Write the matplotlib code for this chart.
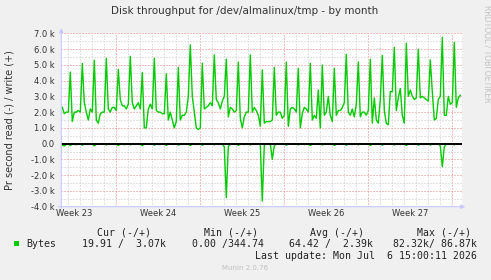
import matplotlib
matplotlib.use("Agg")
import matplotlib.pyplot as plt
import matplotlib.dates as mdates
from matplotlib.ticker import MultipleLocator, FuncFormatter, NullFormatter
from matplotlib.patches import Rectangle
import pandas as pd

# 4-hourly samples, Jun 3 12:00 -> Jul 6 16:00 (k bytes / s)
start = "2026-06-03 12:00"

write_k = [
    2.3, 1.9, 2.0,                      # Jun 3
    2.0, 4.54, 1.4, 2.0, 2.0, 2.1,      # Jun 4
    2.0, 5.08, 2.6, 2.0, 1.5, 2.2,      # Jun 5
    2.0, 5.29, 1.5, 1.3, 1.9, 2.0,      # Jun 6
    2.0, 5.41, 2.2, 2.0, 2.3, 2.3,      # Jun 7
    2.1, 4.71, 2.8, 2.4, 2.4, 2.2,      # Jun 8
    2.5, 5.54, 2.6, 2.2, 2.4, 2.6,      # Jun 9
    2.2, 4.51, 1.0, 1.0, 2.2, 2.5,      # Jun 10
    2.2, 5.42, 2.1, 2.0, 2.0, 1.9,      # Jun 11
    1.9, 4.43, 1.5, 2.0, 1.5, 1.0,      # Jun 12
    1.4, 4.83, 1.5, 1.8, 1.8, 2.0,      # Jun 13
    3.0, 6.26, 3.0, 2.0, 1.0, 0.9,      # Jun 14
    1.0, 5.10, 2.2, 2.3, 2.4, 2.6,      # Jun 15
    2.4, 5.63, 2.8, 2.6, 2.2, 2.7,      # Jun 16
    3.0, 5.36, 1.7, 2.3, 2.2, 2.0,      # Jun 17
    2.1, 5.17, 1.6, 1.0, 1.7, 2.0,      # Jun 18
    2.0, 5.63, 2.0, 2.3, 2.1, 1.8,      # Jun 19
    1.1, 4.68, 1.3, 1.4, 1.4, 1.4,      # Jun 20
    1.5, 4.83, 1.8, 2.0, 2.0, 1.6,      # Jun 21
    1.8, 5.17, 1.1, 2.2, 2.3, 2.2,      # Jun 22
    2.0, 4.78, 1.0, 1.9, 2.3, 2.2,      # Jun 23
    2.0, 5.10, 1.5, 1.8, 1.6, 3.4,      # Jun 24
    1.0, 4.99, 1.8, 2.0, 3.0, 1.8,      # Jun 25
    1.4, 4.78, 1.8, 2.1, 2.1, 2.3,      # Jun 26
    2.6, 5.67, 2.0, 1.8, 2.2, 1.7,      # Jun 27
    2.5, 5.18, 1.7, 2.0, 2.0, 1.8,      # Jun 28
    2.1, 5.35, 1.3, 2.9, 1.5, 1.3,      # Jun 29
    2.8, 5.60, 2.1, 1.3, 1.2, 3.3,      # Jun 30
    3.3, 6.11, 2.1, 2.9, 3.5, 1.8,      # Jul 1
    1.3, 6.37, 3.0, 3.4, 3.0, 2.8,      # Jul 2
    2.9, 5.99, 2.9, 3.0, 2.9, 2.8,      # Jul 3
    2.7, 5.31, 3.3, 1.5, 1.6, 2.8,      # Jul 4
    3.0, 6.74, 1.8, 1.8, 3.0, 2.5,      # Jul 5
    2.6, 6.43, 2.3, 2.9, 3.07,          # Jul 6
]

read_k = [
    -0.10, -0.15, -0.05,                        # Jun 3
    -0.02, -0.12, -0.03, -0.01, -0.08, -0.02,   # Jun 4
    -0.03, -0.10, -0.02, -0.01, -0.06, -0.01,   # Jun 5
    -0.02, -0.14, -0.04, -0.02, -0.03, -0.01,   # Jun 6
    -0.01, -0.09, -0.02, -0.05, -0.02, -0.01,   # Jun 7
    -0.04, -0.12, -0.03, -0.01, -0.07, -0.02,   # Jun 8
    -0.02, -0.08, -0.01, -0.02, -0.05, -0.01,   # Jun 9
    -0.03, -0.13, -0.02, -0.01, -0.04, -0.02,   # Jun 10
    -0.02, -0.10, -0.03, -0.02, -0.06, -0.01,   # Jun 11
    -0.01, -0.11, -0.02, -0.01, -0.03, -0.02,   # Jun 12
    -0.02, -0.09, -0.05, -0.02, -0.02, -0.01,   # Jun 13
    -0.03, -0.12, -0.02, -0.01, -0.06, -0.02,   # Jun 14
    -0.02, -0.10, -0.03, -0.02, -0.04, -0.01,   # Jun 15
    -0.01, -0.08, -0.02, -0.01, -0.05, -0.02,   # Jun 16
    -0.20, -3.43, -0.18, -0.02, -0.04, -0.01,   # Jun 17
    -0.02, -0.11, -0.03, -0.02, -0.06, -0.02,   # Jun 18
    -0.01, -0.09, -0.02, -0.01, -0.03, -0.02,   # Jun 19
    -0.05, -3.64, -0.10, -0.02, -0.04, -0.02,   # Jun 20
    -1.00, -0.12, -0.03, -0.01, -0.05, -0.01,   # Jun 21
    -0.02, -0.10, -0.02, -0.02, -0.03, -0.01,   # Jun 22
    -0.03, -0.08, -0.01, -0.01, -0.06, -0.02,   # Jun 23
    -0.02, -0.12, -0.03, -0.02, -0.04, -0.01,   # Jun 24
    -0.01, -0.09, -0.02, -0.01, -0.05, -0.02,   # Jun 25
    -0.02, -0.11, -0.04, -0.02, -0.03, -0.01,   # Jun 26
    -0.03, -0.10, -0.02, -0.01, -0.06, -0.02,   # Jun 27
    -0.02, -0.08, -0.01, -0.02, -0.04, -0.01,   # Jun 28
    -0.01, -0.12, -0.03, -0.01, -0.05, -0.02,   # Jun 29
    -0.02, -0.10, -0.02, -0.02, -0.03, -0.01,   # Jun 30
    -0.03, -0.09, -0.01, -0.01, -0.06, -0.02,   # Jul 1
    -0.02, -0.11, -0.03, -0.02, -0.04, -0.01,   # Jul 2
    -0.01, -0.10, -0.02, -0.01, -0.05, -0.02,   # Jul 3
    -0.02, -0.09, -0.03, -0.01, -0.04, -0.02,   # Jul 4
    -0.15, -1.46, -0.20, -0.02, -0.03, -0.01,   # Jul 5
    -0.02, -0.08, -0.02, -0.01, -0.02,          # Jul 6
]

week_labels = ["Week 23", "Week 24", "Week 25", "Week 26", "Week 27"]
week_mid = ["2026-06-04 12:00", "2026-06-11 12:00", "2026-06-18 12:00",
            "2026-06-25 12:00", "2026-07-02 12:00"]

legend_cols = ["Cur (-/+)", "Min (-/+)", "Avg (-/+)", "Max (-/+)"]
legend_vals = ["19.91 /  3.07k", "0.00 /344.74", "64.42 /  2.39k", "82.32k/ 86.87k"]

GREEN = "#00CC00"
BG = "#F0F0F0"
TXT = "#333333"

times = pd.date_range(start, periods=len(write_k), freq="4h")

W, H = 491, 280
fig = plt.figure(figsize=(W / 100, H / 100), dpi=100, facecolor=BG)


def fx(px):
    return px / W


def fy(py):
    return 1 - py / H


left, right, top, bottom = 61.3, 461.7, 33.3, 206.7
ax = fig.add_axes([fx(left), fy(bottom), fx(right - left), (bottom - top) / H])
ax.set_facecolor("white")

ax.set_xlim(pd.Timestamp("2026-06-03 10:00"), pd.Timestamp("2026-07-06 18:48"))
ax.set_ylim(-4, 7)

# grid
ax.xaxis.set_major_locator(mdates.WeekdayLocator(byweekday=mdates.MO))
ax.xaxis.set_minor_locator(mdates.DayLocator())
ax.yaxis.set_major_locator(MultipleLocator(1))
ax.yaxis.set_minor_locator(MultipleLocator(0.5))
ax.grid(which="minor", color="#C8C8C8", lw=0.72, ls=(0, (1, 2)))
ax.grid(which="major", color="#F08080", lw=0.72, ls=(0, (1, 2)))
ax.set_axisbelow(True)

ax.plot(times, read_k, color=GREEN, lw=1, zorder=2)
ax.plot(times, write_k, color=GREEN, lw=1, zorder=2)
ax.axhline(0, color="black", lw=1.4, zorder=3)

ax.yaxis.set_major_formatter(FuncFormatter(lambda v, p: "0.0" if v == 0 else f"{v:.1f} k"))
ax.xaxis.set_major_formatter(NullFormatter())
ax.tick_params(which="both", length=0)
ax.tick_params(axis="y", labelsize=6, labelcolor=TXT, pad=5)

sec = ax.secondary_xaxis("bottom")
sec.set_xticks(pd.to_datetime(week_mid), week_labels)
sec.tick_params(length=0, labelsize=6, labelcolor=TXT, pad=2)
for s in sec.spines.values():
    s.set_visible(False)

for s in ax.spines.values():
    s.set_visible(False)

# axis arrows
arrow = dict(arrowstyle="-|>", color="#C8C8FF", lw=0.8, mutation_scale=6, shrinkA=0, shrinkB=0)
ax.annotate("", xy=(0, 1.03), xytext=(0, -0.01), xycoords="axes fraction", arrowprops=arrow)
ax.annotate("", xy=(1.009, 0), xytext=(-0.008, 0), xycoords="axes fraction", arrowprops=arrow)

fig.text(fx(245), fy(11), "Disk throughput for /dev/almalinux/tmp - by month",
         ha="center", va="center", fontsize=7.5, color=TXT)
fig.text(fx(9.5), fy(120), "Pr second read (-) / write (+)", rotation=90,
         ha="center", va="center", fontsize=7, color=TXT)
fig.text(fx(487), fy(5), "RRDTOOL / TOBI OETIKER", rotation=270,
         ha="center", va="top", fontsize=5.5, color="#C0C0C0")

# legend
mono = dict(family="DejaVu Sans Mono", fontsize=7.1, color="#222222", va="center")
col_x = [97.3, 204, 310, 416.7]
val_x = [82.3, 192.3, 288.7, 393.3]
for x, t in zip(col_x, legend_cols):
    fig.text(fx(x), fy(232.7), t, ha="left", **mono)
fig.patches.append(Rectangle((fx(14), fy(246)), fx(5), 5 / H, transform=fig.transFigure,
                             facecolor=GREEN, edgecolor="none"))
fig.text(fx(26.7), fy(244.3), "Bytes", ha="left", **mono)
for x, t in zip(val_x, legend_vals):
    fig.text(fx(x), fy(244.3), t, ha="left", **mono)
fig.text(fx(476.7), fy(256.3), "Last update: Mon Jul  6 15:00:11 2026", ha="right", **mono)
fig.text(fx(245), fy(268.3), "Munin 2.0.76", ha="center", va="center", fontsize=5, color="#C0C0C0")

fig.savefig("out.png", dpi=100, facecolor=BG)
